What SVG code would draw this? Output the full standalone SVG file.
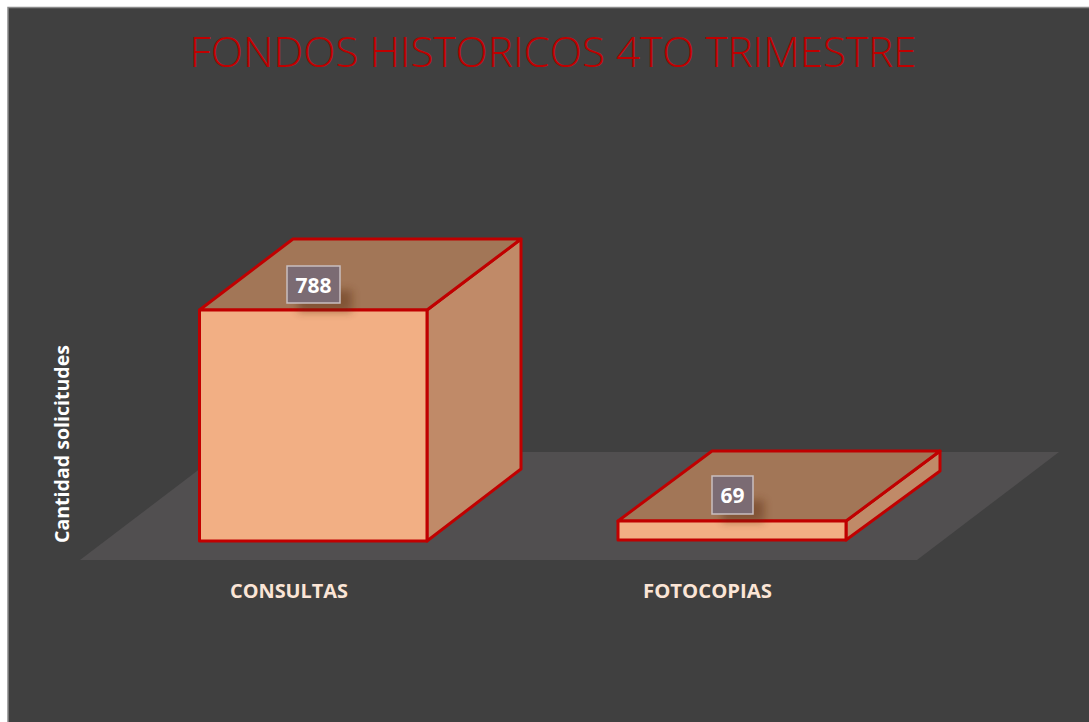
<svg xmlns="http://www.w3.org/2000/svg" width="1089" height="722" viewBox="0 0 1089 722">
<defs>
<style>
.front{fill:#F2AF84;stroke:#C00000;stroke-width:3;stroke-linejoin:round}
.top{fill:#A27657;stroke:#C00000;stroke-width:3;stroke-linejoin:round}
.side{fill:#C08A68;stroke:#C00000;stroke-width:3;stroke-linejoin:round}
.lblbox{fill:#7B6B73;stroke:#C9BEC0;stroke-width:1.5}
.lbl{font-family:"Open Sans","Liberation Sans",sans-serif;font-weight:bold;font-size:21px;fill:#FFFFFF;text-anchor:middle}
.cat{font-family:"Open Sans","Liberation Sans",sans-serif;font-weight:bold;font-size:20px;fill:#FBE5D6;text-anchor:middle}
</style>
<filter id="sh" x="-50%" y="-50%" width="200%" height="200%">
<feGaussianBlur stdDeviation="4"/>
</filter>
</defs>
<rect x="0" y="0" width="1089" height="722" fill="#FFFFFF"/>
<rect x="8" y="7.5" width="1082" height="716" fill="#404040" stroke="#8A8A8A" stroke-width="1.5"/>
<text x="553" y="67" font-family="Open Sans, Liberation Sans, sans-serif" font-weight="300" font-size="42" fill="#C00000" text-anchor="middle" textLength="727" lengthAdjust="spacingAndGlyphs">FONDOS HISTORICOS 4TO TRIMESTRE</text>
<g id="floor">
<polygon points="80,560 917,560 1059,452 222,452" fill="#514F50"/>
</g>
<g id="axis-title">
<text transform="translate(69,444) rotate(-90)" font-family="Open Sans, Liberation Sans, sans-serif" font-weight="bold" font-size="19.5" fill="#FFFFFF" text-anchor="middle" textLength="198" lengthAdjust="spacingAndGlyphs">Cantidad solicitudes</text>
</g>
<g id="bar-consultas">
<polygon class="side" points="427,310 521,239 521,469 427,541"/>
<polygon class="top" points="199.5,310 293,239 521,239 427,310"/>
<rect class="front" x="199.5" y="310" width="227.5" height="231"/>
</g>
<g id="bar-fotocopias">
<polygon class="side" points="846,521 940,451 940,471 846,540"/>
<polygon class="top" points="618,521 712,451 940,451 846,521"/>
<rect class="front" x="618" y="521" width="228" height="19"/>
</g>
<g id="label-788">
<rect x="298" y="290" width="54" height="22" fill="#5a2a10" opacity="0.45" filter="url(#sh)"/>
<rect class="lblbox" x="287" y="266" width="53" height="37"/>
<text class="lbl" x="313.5" y="292.5">788</text>
</g>
<g id="label-69">
<rect x="722" y="500" width="42" height="22" fill="#5a2a10" opacity="0.45" filter="url(#sh)"/>
<rect class="lblbox" x="712" y="476" width="41" height="38"/>
<text class="lbl" x="732.5" y="502.5">69</text>
</g>
<g id="categories">
<text class="cat" x="289" y="597.5" textLength="118" lengthAdjust="spacingAndGlyphs">CONSULTAS</text>
<text class="cat" x="707.5" y="597.5" textLength="129" lengthAdjust="spacingAndGlyphs">FOTOCOPIAS</text>
</g>
</svg>
